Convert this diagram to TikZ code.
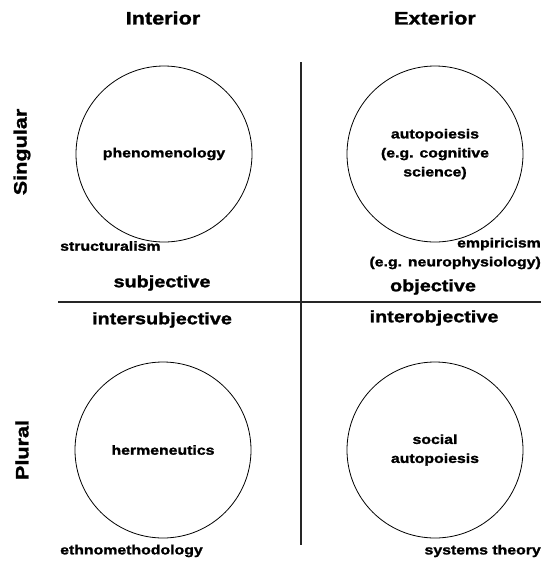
\documentclass[tikz,border=0pt]{standalone}
\usepackage{fontspec}
\setmainfont{Liberation Sans}[FakeStretch=1.2]
\newfontfamily\heavyfont{Liberation Sans}[FakeStretch=1.2,FakeBold=1.5]
\begin{document}
\begin{tikzpicture}[x=1pt,y=-1pt,
  head/.style={font=\fontsize{18}{20}\heavyfont\bfseries, inner sep=0pt},
  pole/.style={font=\fontsize{16.5}{19}\heavyfont\bfseries, inner sep=0pt},
  small/.style={font=\fontsize{13.2}{19}\heavyfont\bfseries, inner sep=0pt, align=center},
  quad/.style={circle, draw, line width=0.8pt, minimum size=176pt, inner sep=0pt, font=\fontsize{13.2}{19}\heavyfont\bfseries, align=center},
  axis/.style={line width=1.4pt, draw=black!85}]
\useasboundingbox (0,0) rectangle (542,566);
% headings
\node[head] (interior) at (163,18) {Interior};
\node[head] (exterior) at (435,18) {Exterior};
\node[head, rotate=90] (singular) at (22,152) {Singular};
\node[head, rotate=90] (plural) at (22,450) {Plural};
% axes
\coordinate (vtop) at (301,62);
\coordinate (vbot) at (301,545);
\coordinate (hl) at (58,302);
\coordinate (hr) at (541,302);
\draw[axis] (vtop) -- (vbot);
\draw[axis] (hl) -- (hr);
% circles
\node[quad] (phen) at (164,154) {phenomenology};
\node[quad] (auto) at (435,154) {autopoiesis\\(e.g. cognitive\\science)};
\node[quad] (herm) at (163,450) {hermeneutics};
\node[quad] (soc) at (435,450) {social\\autopoiesis};
% small labels
\node[small, anchor=west] (struct) at (60,246) {structuralism};
\node[small, anchor=east] (emp) at (541,244) {empiricism};
\node[small, anchor=east] (neuro) at (541,263) {(e.g. neurophysiology)};
\node[small, anchor=west] (ethno) at (60,551) {ethnomethodology};
\node[small, anchor=east] (sys) at (541,551) {systems theory};
% quadrant labels
\node[pole] (subj) at (162,283) {subjective};
\node[pole] (obj) at (433,287) {objective};
\node[pole] (intersubj) at (162,320) {intersubjective};
\node[pole] (interobj) at (434,318) {interobjective};
\end{tikzpicture}
\end{document}
